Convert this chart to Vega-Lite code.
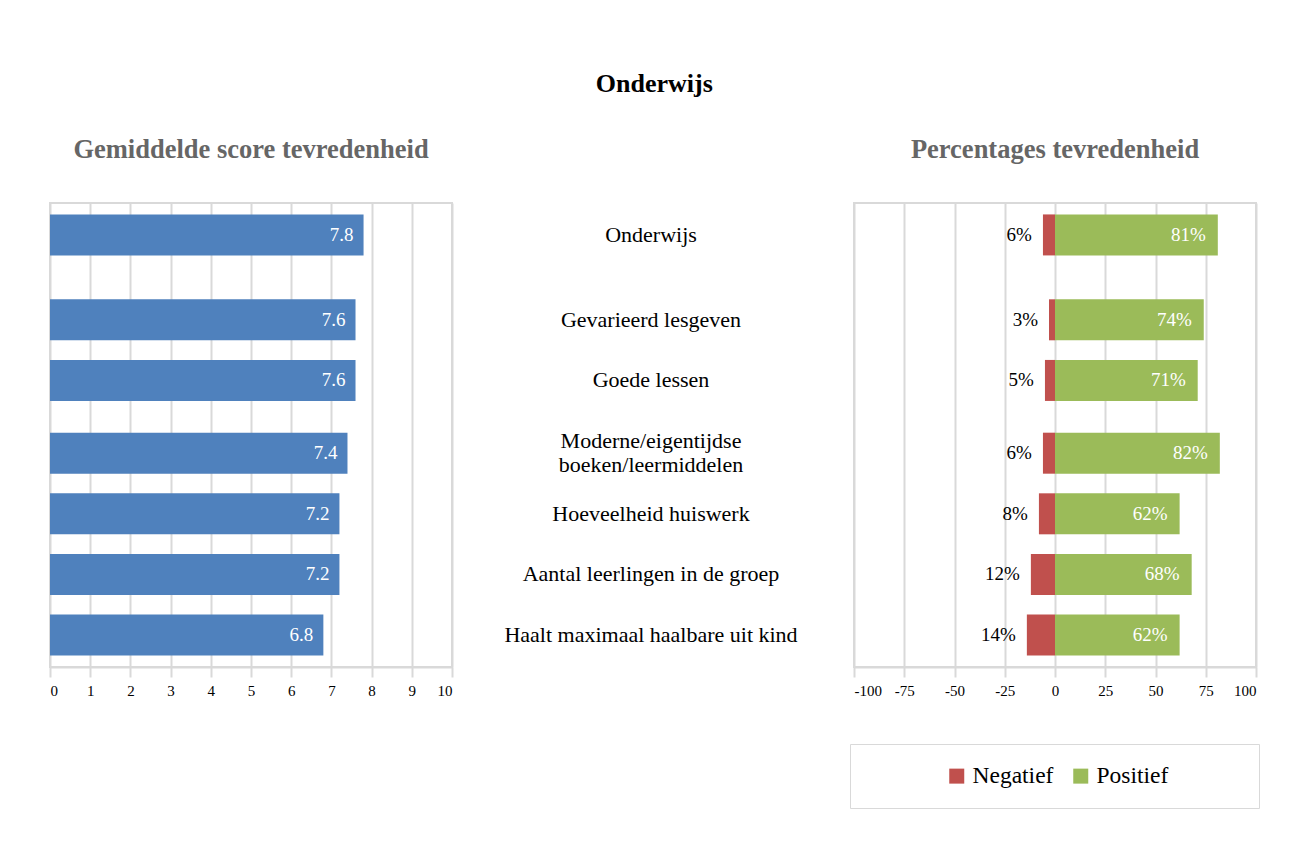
{
  "$schema": "https://vega.github.io/schema/vega-lite/v6.json",
  "padding": {"left": 48, "top": 70, "right": 10, "bottom": 10},
  "background": "white",
  "title": {"text": "Onderwijs", "fontSize": 26, "fontWeight": "bold", "color": "#000000", "anchor": "middle", "offset": 39, "font": "Liberation Serif"},
  "datasets": {
    "scores": [
      {"item": "Onderwijs", "score": 7.8},
      {"item": "Gevarieerd lesgeven", "score": 7.6},
      {"item": "Goede lessen", "score": 7.6},
      {"item": "Moderne/eigentijdse|boeken/leermiddelen", "score": 7.4},
      {"item": "Hoeveelheid huiswerk", "score": 7.2},
      {"item": "Aantal leerlingen in de groep", "score": 7.2},
      {"item": "Haalt maximaal haalbare uit kind", "score": 6.8}
    ],
    "sentiment": [
      {"item": "Onderwijs", "sentiment": "Negatief", "value": -6, "label": "6%"},
      {"item": "Onderwijs", "sentiment": "Positief", "value": 81, "label": "81%"},
      {"item": "Gevarieerd lesgeven", "sentiment": "Negatief", "value": -3, "label": "3%"},
      {"item": "Gevarieerd lesgeven", "sentiment": "Positief", "value": 74, "label": "74%"},
      {"item": "Goede lessen", "sentiment": "Negatief", "value": -5, "label": "5%"},
      {"item": "Goede lessen", "sentiment": "Positief", "value": 71, "label": "71%"},
      {"item": "Moderne/eigentijdse|boeken/leermiddelen", "sentiment": "Negatief", "value": -6, "label": "6%"},
      {"item": "Moderne/eigentijdse|boeken/leermiddelen", "sentiment": "Positief", "value": 82, "label": "82%"},
      {"item": "Hoeveelheid huiswerk", "sentiment": "Negatief", "value": -8, "label": "8%"},
      {"item": "Hoeveelheid huiswerk", "sentiment": "Positief", "value": 62, "label": "62%"},
      {"item": "Aantal leerlingen in de groep", "sentiment": "Negatief", "value": -12, "label": "12%"},
      {"item": "Aantal leerlingen in de groep", "sentiment": "Positief", "value": 68, "label": "68%"},
      {"item": "Haalt maximaal haalbare uit kind", "sentiment": "Negatief", "value": -14, "label": "14%"},
      {"item": "Haalt maximaal haalbare uit kind", "sentiment": "Positief", "value": 62, "label": "62%"}
    ]
  },
  "spacing": 0,
  "resolve": {"legend": {"color": "independent"}},
  "hconcat": [
    {
      "width": 402,
      "height": 464,
      "title": {"text": "Gemiddelde score tevredenheid", "fontSize": 26.5, "fontWeight": "bold", "color": "#666666", "anchor": "middle", "offset": 40},
      "data": {"name": "scores"},
      "encoding": {
        "y": {"field": "item", "type": "nominal", "axis": null,
          "scale": {"type": "band", "domain": ["t1", "t2", "Onderwijs", "g1", "g2", "g3", "g4", "g5", "g6", "Gevarieerd lesgeven", "g7", "g8", "g9", "g10", "Goede lessen", "g11", "g12", "g13", "g14", "g15", "Moderne/eigentijdse|boeken/leermiddelen", "g16", "g17", "g18", "g19", "Hoeveelheid huiswerk", "g20", "g21", "g22", "g23", "Aantal leerlingen in de groep", "g24", "g25", "g26", "g27", "Haalt maximaal haalbare uit kind", "b1", "b2"], "paddingInner": 0, "paddingOuter": 0.133}},
        "x": {"field": "score", "type": "quantitative", "scale": {"domain": [0, 10], "nice": false},
          "axis": {"values": [0, 1, 2, 3, 4, 5, 6, 7, 8, 9, 10], "title": null}}
      },
      "layer": [
        {"mark": {"type": "bar", "color": "#4f81bd", "height": 41}},
        {"mark": {"type": "text", "align": "right", "dx": -10, "color": "white", "fontSize": 19},
         "encoding": {"text": {"field": "score", "type": "quantitative", "format": ".1f"}}}
      ]
    },
    {
      "width": 394,
      "height": 464,
      "view": {"stroke": null},
      "data": {"name": "scores"},
      "encoding": {
        "y": {"field": "item", "type": "nominal", "axis": null,
          "scale": {"type": "band", "domain": ["t1", "t2", "Onderwijs", "g1", "g2", "g3", "g4", "g5", "g6", "Gevarieerd lesgeven", "g7", "g8", "g9", "g10", "Goede lessen", "g11", "g12", "g13", "g14", "g15", "Moderne/eigentijdse|boeken/leermiddelen", "g16", "g17", "g18", "g19", "Hoeveelheid huiswerk", "g20", "g21", "g22", "g23", "Aantal leerlingen in de groep", "g24", "g25", "g26", "g27", "Haalt maximaal haalbare uit kind", "b1", "b2"], "paddingInner": 0, "paddingOuter": 0.133}},
        "text": {"field": "item", "type": "nominal"}
      },
      "layer": [
        {"transform": [{"filter": "indexof(datum.item, '|') < 0"}],
         "mark": {"type": "text", "fontSize": 22, "color": "#000000"}},
        {"transform": [{"filter": "indexof(datum.item, '|') >= 0"}],
         "mark": {"type": "text", "fontSize": 22, "lineBreak": "|", "color": "#000000", "lineHeight": 24, "dy": -12}}
      ]
    },
    {
      "width": 402,
      "height": 464,
      "title": {"text": "Percentages tevredenheid", "fontSize": 26.5, "fontWeight": "bold", "color": "#666666", "anchor": "middle", "offset": 40},
      "data": {"name": "sentiment"},
      "encoding": {
        "y": {"field": "item", "type": "nominal", "axis": null,
          "scale": {"type": "band", "domain": ["t1", "t2", "Onderwijs", "g1", "g2", "g3", "g4", "g5", "g6", "Gevarieerd lesgeven", "g7", "g8", "g9", "g10", "Goede lessen", "g11", "g12", "g13", "g14", "g15", "Moderne/eigentijdse|boeken/leermiddelen", "g16", "g17", "g18", "g19", "Hoeveelheid huiswerk", "g20", "g21", "g22", "g23", "Aantal leerlingen in de groep", "g24", "g25", "g26", "g27", "Haalt maximaal haalbare uit kind", "b1", "b2"], "paddingInner": 0, "paddingOuter": 0.133}},
        "x": {"field": "value", "type": "quantitative", "stack": null, "scale": {"domain": [-100, 100], "nice": false},
          "axis": {"values": [-100, -75, -50, -25, 0, 25, 50, 75, 100], "title": null,
            "labelExpr": "datum.value < 0 ? '-' + abs(datum.value) : '' + datum.value"}}
      },
      "layer": [
        {"mark": {"type": "bar", "height": 41},
         "encoding": {"color": {"field": "sentiment", "type": "nominal",
           "scale": {"domain": ["Negatief", "Positief"], "range": ["#c0504d", "#9bbb59"]},
           "legend": {"title": "\u200b\u00a0\u00a0\u00a0\u00a0\u00a0\u00a0\u00a0\u00a0\u00a0\u00a0\u00a0\u00a0\u00a0\u00a0\u00a0\u200b", "titleOrient": "left", "titleFontSize": 20, "titlePadding": 0,
             "orient": "none", "direction": "horizontal", "legendX": -4, "legendY": 541,
             "strokeColor": "#d9d9d9", "padding": 20, "symbolType": "square", "symbolSize": 225, "symbolStrokeWidth": 0,
             "labelFontSize": 23.5, "labelColor": "#000000", "labelOffset": 4, "columnPadding": 15,
             "labelExpr": "datum.label == 'Positief' ? 'Positief\u00a0\u00a0\u00a0\u00a0\u00a0\u00a0\u00a0\u00a0\u00a0\u00a0\u00a0\u00a0\u200b' : datum.label"}}}},
        {"transform": [{"filter": "datum.sentiment == 'Negatief'"}],
         "mark": {"type": "text", "align": "right", "dx": -11, "color": "#000000", "fontSize": 19},
         "encoding": {"text": {"field": "label", "type": "nominal"}}},
        {"transform": [{"filter": "datum.sentiment == 'Positief'"}],
         "mark": {"type": "text", "align": "right", "dx": -12, "color": "white", "fontSize": 19},
         "encoding": {"text": {"field": "label", "type": "nominal"}}}
      ]
    }
  ],
  "config": {
    "font": "Liberation Serif",
    "view": {"stroke": "#d9d9d9", "strokeWidth": 2},
    "axis": {"grid": true, "gridColor": "#d9d9d9", "gridWidth": 2, "domainColor": "#d9d9d9", "domainWidth": 2,
      "tickColor": "#d9d9d9", "tickWidth": 2, "tickSize": 10, "labelFontSize": 15, "labelColor": "#000000", "labelPadding": 6,
      "labelFont": "Liberation Serif"},
    "legend": {"labelFont": "Liberation Serif", "titleFont": "Liberation Serif"},
    "title": {"font": "Liberation Serif"}
  }
}
